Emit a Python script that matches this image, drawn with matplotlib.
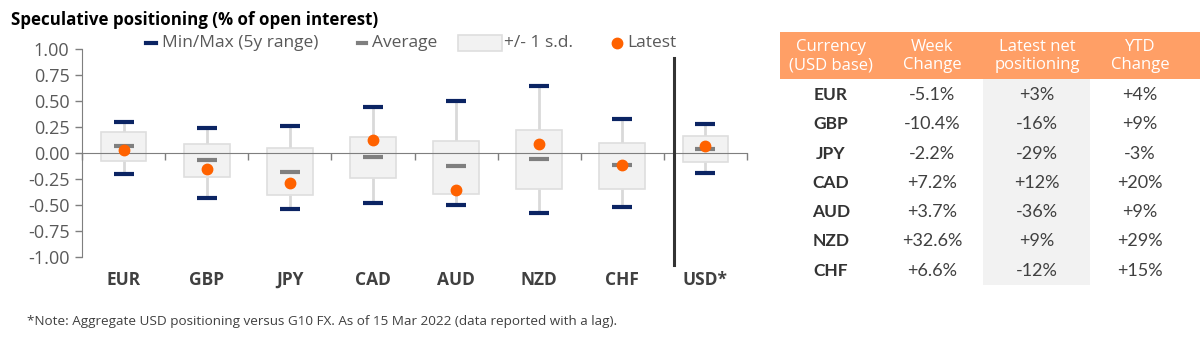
import numpy as np
import matplotlib
matplotlib.use("Agg")
import matplotlib.pyplot as plt
from matplotlib.lines import Line2D
from matplotlib.patches import Rectangle

# chart data (share of open interest)
currencies = ["EUR", "GBP", "JPY", "CAD", "AUD", "NZD", "CHF", "USD*"]
range_max = [0.30, 0.24, 0.26, 0.44, 0.50, 0.64, 0.33, 0.275]
range_min = [-0.20, -0.43, -0.54, -0.48, -0.50, -0.58, -0.52, -0.19]
sd_upper = [0.205, 0.085, 0.05, 0.157, 0.12, 0.22, 0.10, 0.167]
sd_lower = [-0.08, -0.235, -0.40, -0.24, -0.39, -0.35, -0.35, -0.085]
average = [0.067, -0.067, -0.18, -0.035, -0.125, -0.06, -0.12, 0.04]
latest = [0.03, -0.155, -0.285, 0.125, -0.36, 0.09, -0.12, 0.07]

# table data
tbl_header = ["Currency\n(USD base)", "Week\nChange", "Latest net\npositioning", "YTD\nChange"]
tbl_ccy = ["EUR", "GBP", "JPY", "CAD", "AUD", "NZD", "CHF"]
tbl_week = ["-5.1%", "-10.4%", "-2.2%", "+7.2%", "+3.7%", "+32.6%", "+6.6%"]
tbl_latest = ["+3%", "-16%", "-29%", "+12%", "-36%", "+9%", "-12%"]
tbl_ytd = ["+4%", "+9%", "-3%", "+20%", "+9%", "+29%", "+15%"]

NAVY = "#0b2463"
GREY = "#7f7f7f"
ORANGE = "#ff6200"
TXT = "#595959"
FONT = "Open Sans"

plt.rcParams["font.family"] = [FONT, "DejaVu Sans"]

W, H = 1200, 337
fig = plt.figure(figsize=(W / 100, H / 100), dpi=100)

# main axes, placed in pixels
l, r, t, b = 82, 747, 49, 257
ax = fig.add_axes([l / W, 1 - b / H, (r - l) / W, (b - t) / H])

x = np.arange(len(currencies))
box_w = 0.55
cap_w = 0.12

ax.bar(x, np.array(sd_upper) - np.array(sd_lower), bottom=sd_lower, width=box_w,
       color="#f2f2f2", edgecolor="#dedede", linewidth=1.2, zorder=2)
ax.vlines(x, sd_upper, range_max, color="#d9d9d9", lw=2, zorder=1)
ax.vlines(x, range_min, sd_lower, color="#d9d9d9", lw=2, zorder=1)
ax.hlines(range_max, x - cap_w, x + cap_w, color=NAVY, lw=3, zorder=3)
ax.hlines(range_min, x - cap_w, x + cap_w, color=NAVY, lw=3, zorder=3)
ax.hlines(average, x - cap_w, x + cap_w, color=GREY, lw=3, zorder=3)
ax.plot(x, latest, "o", color=ORANGE, ms=7.5, zorder=4)

# separator before USD
ax.plot([6.62, 6.62], [0.91, -1.08], color="#333333", lw=2.2, clip_on=False, zorder=5)

ax.set_xlim(-0.5, len(currencies) - 0.5)
ax.set_ylim(-1, 1)
ax.set_yticks(np.arange(-1, 1.01, 0.25))
ax.set_yticklabels([f"{v:.2f}" for v in np.arange(-1, 1.01, 0.25)])
ax.tick_params(axis="y", colors=GREY, labelcolor=TXT, labelsize=13, length=5, width=1, pad=4)
ax.spines["left"].set_color(GREY)
ax.spines["top"].set_visible(False)
ax.spines["right"].set_visible(False)
ax.spines["bottom"].set_position(("data", 0))
ax.spines["bottom"].set_color(GREY)
ax.set_xticks(np.arange(-0.5, len(currencies), 1.0))
ax.set_xticklabels([])
ax.tick_params(axis="x", colors=GREY, length=5, width=1)
for i, c in enumerate(currencies):
    ax.text(i, -1.22, c, ha="center", va="center", fontsize=12.5, fontweight="bold",
            color="#404040")

# overlay in pixel coordinates for title, legend, note and table
ov = fig.add_axes([0, 0, 1, 1])
ov.set_xlim(0, W)
ov.set_ylim(H, 0)
ov.axis("off")
ov.patch.set_visible(False)

ov.text(11, 20, "Speculative positioning (% of open interest)", ha="left", va="center",
        fontsize=12.2, fontweight="bold", color="#000000")

ly = 43
ov.add_line(Line2D([146, 156], [ly, ly], color=NAVY, lw=3))
ov.text(162, ly, "Min/Max (5y range)", va="center", fontsize=12.5, color=TXT)
ov.add_line(Line2D([358, 366], [ly, ly], color=GREY, lw=3))
ov.text(372, ly, "Average", va="center", fontsize=12.5, color=TXT)
ov.add_patch(Rectangle((458, 35), 44, 16, facecolor="#f2f2f2", edgecolor="#dedede", lw=1.2))
ov.text(504, ly, "+/- 1 s.d.", va="center", fontsize=12.5, color=TXT)
ov.plot([617], [ly], "o", color=ORANGE, ms=7.5)
ov.text(627, ly, "Latest", va="center", fontsize=12.5, color=TXT)

ov.text(27, 322, "*Note: Aggregate USD positioning versus G10 FX. As of 15 Mar 2022 (data reported with a lag).",
        va="center", fontsize=9.7, color="#404040")

# table
ov.add_patch(Rectangle((780, 32), 420, 47, facecolor="#ff9f66", edgecolor="none"))
ov.add_patch(Rectangle((983, 79), 107, 206, facecolor="#f2f2f2", edgecolor="none"))
col_x = [831, 932, 1037, 1140]
for cx, h in zip(col_x, tbl_header):
    ov.text(cx, 56, h, ha="center", va="center", fontsize=12, color="white",
            linespacing=1.2)
row0, dy = 95, 29.3
for i in range(len(tbl_ccy)):
    yy = row0 + i * dy
    ov.text(col_x[0], yy, tbl_ccy[i], ha="center", va="center", fontsize=12.5,
            fontweight="bold", color="#333333", family="Lato")
    for cx, vals in zip(col_x[1:], [tbl_week, tbl_latest, tbl_ytd]):
        ov.text(cx, yy, vals[i], ha="center", va="center", fontsize=13,
                color="#404040", family="Lato")

fig.savefig("out.png", dpi=100)
